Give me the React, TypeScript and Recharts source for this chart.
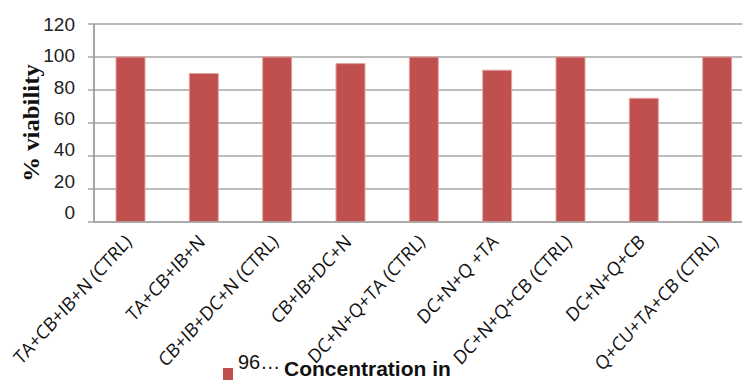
import React from 'react';
import { BarChart, Bar, XAxis, YAxis, CartesianGrid } from 'recharts';

const categories = [
  'TA+CB+IB+N (CTRL)',
  'TA+CB+IB+N',
  'CB+IB+DC+N (CTRL)',
  'CB+IB+DC+N',
  'DC+N+Q+TA (CTRL)',
  'DC+N+Q +TA',
  'DC+N+Q+CB (CTRL)',
  'DC+N+Q+CB',
  'Q+CU+TA+CB (CTRL)',
];
const viability = [100, 90, 100, 96, 100, 92, 100, 75, 100];
const yTicks = [0, 20, 40, 60, 80, 100, 120];
const legendParts = ['96…', 'Concentration in'];

const data = categories.map((name, i) => ({ name, value: viability[i] }));

const BAR_RED = '#C0504D';
const GRID = '#A6A6A6';
// text in this chart is drawn a little taller than wide
const STRETCH = 1.1;

const XTick = (props: any) => {
  const { x, y, payload } = props;
  const bx = x + 2;
  const by = y + 21;
  return (
    <text
      x={0}
      y={0}
      transform={`translate(${bx}, ${by}) scale(1, ${STRETCH}) rotate(-45)`}
      textAnchor="end"
      fontFamily="'Open Sans', sans-serif"
      fontSize={17.5}
      fill="#111"
    >
      {payload.value}
    </text>
  );
};

// tick labels sit slightly above their gridlines, more so near the bottom
const YTick = (props: any) => {
  const { x, y, payload } = props;
  const shift = -((120 - payload.value) / 120) * 10;
  return (
    <text
      x={x}
      y={y + shift}
      dy="0.36em"
      textAnchor="end"
      fontFamily="'Liberation Sans', Arial, sans-serif"
      fontSize={19}
      fill="#222"
    >
      {payload.value}
    </text>
  );
};

const YLabel = () => (
  <text
    x={0}
    y={0}
    transform={`translate(39, 123) scale(1, ${STRETCH}) rotate(-90)`}
    textAnchor="middle"
    fontFamily="'Liberation Serif', 'Times New Roman', serif"
    fontWeight="bold"
    fontSize={22.5}
    fill="#111"
  >
    % viability
  </text>
);

export default function App() {
  return (
    <div style={{ position: 'absolute', left: 0, top: 0, width: 742, height: 380, overflow: 'hidden', background: '#fff' }}>
      <BarChart
        width={770}
        height={380}
        data={data}
        margin={{ top: 24, right: 16, bottom: 0, left: 0 }}
      >
        <CartesianGrid horizontal vertical={false} stroke={GRID} strokeWidth={1.5} />
        <XAxis
          dataKey="name"
          interval={0}
          height={158}
          tickSize={0}
          tickMargin={0}
          tickLine={false}
          axisLine={{ stroke: GRID, strokeWidth: 1.5 }}
          tick={<XTick />}
        />
        <YAxis
          domain={[0, 120]}
          ticks={yTicks}
          width={94}
          tickSize={6}
          tickMargin={13}
          tickLine={{ stroke: GRID, strokeWidth: 1.5 }}
          axisLine={{ stroke: '#888', strokeWidth: 1.5 }}
          tick={<YTick />}
          label={<YLabel />}
        />
        <Bar
          dataKey="value"
          name={legendParts.join(' ')}
          fill={BAR_RED}
          stroke="#E3A3A1"
          strokeWidth={1}
          barSize={29}
          isAnimationActive={false}
        />
      </BarChart>
      {/* legend: swatch, truncated series name, bold caption */}
      <div style={{ position: 'absolute', left: 223, top: 368, width: 10, height: 12, background: BAR_RED }} />
      <div
        style={{
          position: 'absolute',
          left: 238,
          top: 352,
          fontFamily: "'Liberation Sans', Arial, sans-serif",
          fontSize: 20,
          lineHeight: '20px',
          whiteSpace: 'nowrap',
          color: '#111',
        }}
      >
        {legendParts[0]}
      </div>
      <div
        style={{
          position: 'absolute',
          left: 284,
          top: 358,
          fontFamily: "'Liberation Sans', Arial, sans-serif",
          fontSize: 21,
          fontWeight: 'bold',
          lineHeight: '21px',
          whiteSpace: 'nowrap',
          color: '#111',
        }}
      >
        {legendParts[1]}
      </div>
    </div>
  );
}
